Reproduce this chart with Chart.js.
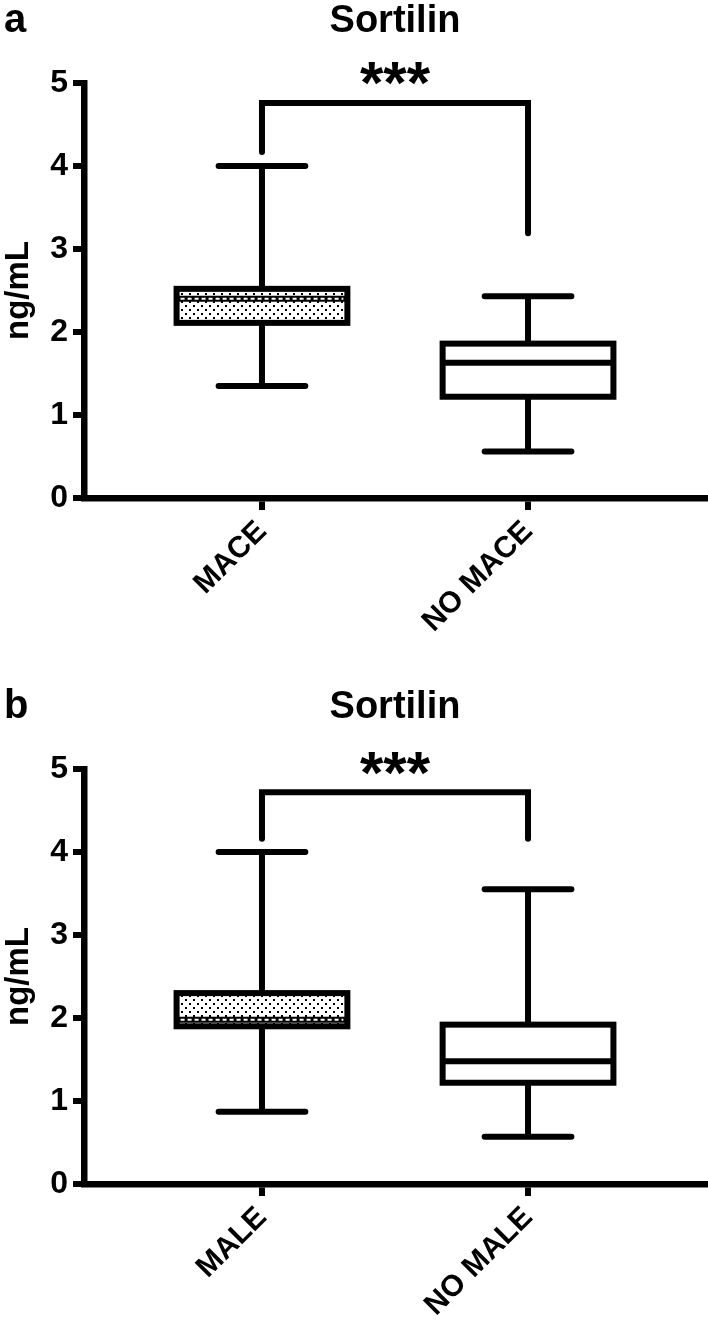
<!DOCTYPE html>
<html>
<head>
<meta charset="utf-8">
<script src="https://cdn.jsdelivr.net/npm/chart.js@4/dist/chart.umd.min.js"></script>
<style>
  html, body { margin: 0; padding: 0; background: #fff; overflow: hidden; }
  #wrap { position: relative; width: 708px; height: 1326px; }
  canvas { position: absolute; left: 0; }
  #chartA { top: 0; }
  #chartB { top: 686px; }
</style>
</head>
<body>
<div id="wrap">
  <canvas id="chartA" width="708" height="686"></canvas>
  <canvas id="chartB" width="708" height="686"></canvas>
</div>
<script>
// values (ng/mL)
const yTicks = [0, 1, 2, 3, 4, 5];

const categoriesA = ['MACE', 'NO MACE'];
const whiskerLowA = [1.35, 0.56];
const q1A = [2.11, 1.22];
const medianA = [2.40, 1.63];
const q3A = [2.52, 1.86];
const whiskerHighA = [4.00, 2.43];
const bracketTopA = 4.76;
const bracketLegsA = [4.17, 3.19];

const categoriesB = ['MALE', 'NO MALE'];
const whiskerLowB = [0.87, 0.57];
const q1B = [1.90, 1.22];
const medianB = [1.98, 1.48];
const q3B = [2.30, 1.92];
const whiskerHighB = [4.00, 3.55];
const bracketTopB = 4.72;
const bracketLegsB = [4.16, 4.16];

const FONT = "'Liberation Sans', Arial, Helvetica, sans-serif";
Chart.defaults.font.family = FONT;
Chart.defaults.color = '#000';

// dotted fill used for the first box
function dotPattern(ctx) {
    let c = document.createElement('canvas');
    c.width = 8; c.height = 8;
    let p = c.getContext('2d');
    p.fillStyle = '#fff';
    p.fillRect(0, 0, 8, 8);
    p.fillStyle = '#000';
    p.fillRect(1, 1, 2, 2);
    p.fillRect(5, 5, 2, 2);
    return ctx.createPattern(c, 'repeat');
}

function makeBoxPlugin(panel) {
    return {
        id: 'boxPlot' + panel.letter,
        afterDatasetsDraw(chart) {
            const {ctx, scales: {x, y}} = chart;
            ctx.save();
            ctx.strokeStyle = '#000';
            ctx.lineWidth = 6;

            panel.categories.forEach((cat, i) => {
                const cx = x.getPixelForValue(i);
                const bw = x.getPixelForValue(i + 0.321) - cx;
                const cw = x.getPixelForValue(i + 0.163) - cx;
                const yLo = y.getPixelForValue(panel.low[i]);
                const yQ1 = y.getPixelForValue(panel.q1[i]);
                const yMed = y.getPixelForValue(panel.median[i]);
                const yQ3 = y.getPixelForValue(panel.q3[i]);
                const yHi = y.getPixelForValue(panel.high[i]);

                // whiskers
                ctx.lineCap = 'round';
                ctx.beginPath();
                ctx.moveTo(cx, yQ3); ctx.lineTo(cx, yHi);
                ctx.moveTo(cx, yQ1); ctx.lineTo(cx, yLo);
                ctx.moveTo(cx - cw, yHi); ctx.lineTo(cx + cw, yHi);
                ctx.moveTo(cx - cw, yLo); ctx.lineTo(cx + cw, yLo);
                ctx.stroke();

                // box
                ctx.lineCap = 'butt';
                ctx.lineJoin = 'miter';
                ctx.fillStyle = i === 0 ? dotPattern(ctx) : '#fff';
                ctx.fillRect(cx - bw, yQ3, 2 * bw, yQ1 - yQ3);
                ctx.strokeRect(cx - bw, yQ3, 2 * bw, yQ1 - yQ3);

                // median
                ctx.beginPath();
                ctx.moveTo(cx - bw, yMed); ctx.lineTo(cx + bw, yMed);
                ctx.stroke();
                if (i === 0) {
                    ctx.save();
                    ctx.strokeStyle = '#fff';
                    ctx.lineWidth = 2;
                    ctx.setLineDash([4, 3]);
                    ctx.beginPath();
                    ctx.moveTo(cx - bw + 4, yMed); ctx.lineTo(cx + bw - 4, yMed);
                    ctx.stroke();
                    ctx.restore();
                }
            });

            // significance bracket
            const xl = x.getPixelForValue(0);
            const xr = x.getPixelForValue(1);
            const yt = y.getPixelForValue(panel.bracketTop);
            ctx.lineCap = 'round';
            ctx.lineJoin = 'miter';
            ctx.beginPath();
            ctx.moveTo(xl, y.getPixelForValue(panel.bracketLegs[0]));
            ctx.lineTo(xl, yt);
            ctx.lineTo(xr, yt);
            ctx.lineTo(xr, y.getPixelForValue(panel.bracketLegs[1]));
            ctx.stroke();

            // stars
            ctx.fillStyle = '#000';
            ctx.font = 'bold 60px ' + FONT;
            ctx.textAlign = 'center';
            ctx.textBaseline = 'alphabetic';
            const m = ctx.measureText('***');
            const mid = yt - 29;
            const base = mid - (m.actualBoundingBoxDescent - m.actualBoundingBoxAscent) / 2;
            ctx.fillText('***', (xl + xr) / 2, base);
            ctx.restore();
        },
        afterDraw(chart) {
            const {ctx, chartArea} = chart;
            ctx.save();
            ctx.fillStyle = '#000';
            ctx.textBaseline = 'alphabetic';
            ctx.textAlign = 'left';
            ctx.font = 'bold 40px ' + FONT;
            ctx.fillText(panel.letter, 4, 32);
            ctx.textAlign = 'center';
            ctx.font = 'bold 38px ' + FONT;
            ctx.fillText('Sortilin', (chartArea.left + chartArea.right) / 2, 32);
            ctx.restore();
        }
    };
}

function makeChart(canvasId, panel) {
    const ctx = document.getElementById(canvasId);
    return new Chart(ctx, {
        type: 'scatter',
        data: {
            datasets: [{
                data: panel.median.map((v, i) => ({x: i, y: v})),
                pointRadius: 0,
                showLine: false
            }]
        },
        options: {
            responsive: false,
            animation: false,
            devicePixelRatio: 1,
            layout: {padding: {top: 83, right: 2, left: 0, bottom: 0}},
            plugins: {legend: {display: false}, tooltip: {enabled: false}},
            scales: {
                x: {
                    type: 'linear',
                    min: -0.669,
                    max: 1.669,
                    afterBuildTicks: axis => { axis.ticks = panel.categories.map((c, i) => ({value: i})); },
                    afterFit: axis => { axis.height = 188; },
                    border: {display: true, color: '#000', width: 6.5},
                    grid: {drawOnChartArea: false, drawTicks: true, tickLength: 12, lineWidth: 6, color: '#000'},
                    ticks: {
                        autoSkip: false,
                        minRotation: 45,
                        maxRotation: 45,
                        padding: 4,
                        font: {size: 30, weight: 'bold'},
                        callback: v => panel.categories[v]
                    }
                },
                y: {
                    min: 0,
                    max: 5,
                    afterBuildTicks: axis => { axis.ticks = yTicks.map(v => ({value: v})); },
                    afterFit: axis => { axis.width = 84; },
                    border: {display: true, color: '#000', width: 6.5},
                    grid: {drawOnChartArea: false, drawTicks: true, tickLength: 11, lineWidth: 6, color: '#000'},
                    ticks: {padding: 5, font: {size: 32, weight: 'bold'}},
                    title: {
                        display: true,
                        text: 'ng/mL',
                        padding: {top: 2, bottom: 0},
                        font: {size: 33, weight: 'bold', lineHeight: 1}
                    }
                }
            }
        },
        plugins: [makeBoxPlugin(panel)]
    });
}

makeChart('chartA', {
    letter: 'a', categories: categoriesA,
    low: whiskerLowA, q1: q1A, median: medianA, q3: q3A, high: whiskerHighA,
    bracketTop: bracketTopA, bracketLegs: bracketLegsA
});
makeChart('chartB', {
    letter: 'b', categories: categoriesB,
    low: whiskerLowB, q1: q1B, median: medianB, q3: q3B, high: whiskerHighB,
    bracketTop: bracketTopB, bracketLegs: bracketLegsB
});
</script>
</body>
</html>
